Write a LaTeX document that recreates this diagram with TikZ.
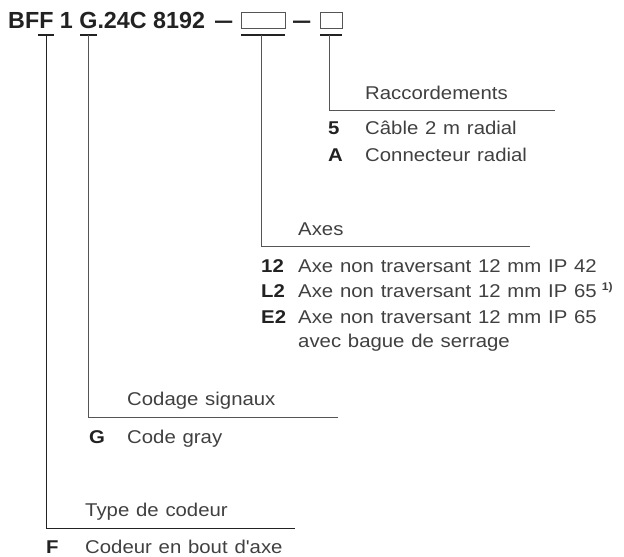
\documentclass[tikz,border=0pt]{standalone}
\usepackage{fontspec}
\setmainfont{Liberation Sans}[Ligatures=TeXOff]
\newfontfamily\bodyfont{Liberation Sans}[Ligatures=TeXOff,FakeStretch=1.1,WordSpace=1.2]
\definecolor{txt}{HTML}{404040}
\definecolor{keyc}{HTML}{222222}
\definecolor{ln}{HTML}{555555}
\newcommand{\shortdash}{\scalebox{0.74}[1]{—}}
\begin{document}
\begin{tikzpicture}[x=1pt,y=-1pt,
  lbl/.style={anchor=base west,inner sep=0pt,text=txt,font=\bodyfont\fontsize{18.5}{22}\selectfont},
  key/.style={anchor=base west,inner sep=0pt,text=keyc,font=\bodyfont\fontsize{18.5}{22}\selectfont\bfseries},
  ttl/.style={anchor=base west,inner sep=0pt,text=keyc,font=\fontsize{23.3}{26}\selectfont\bfseries},
  lead/.style={draw=ln,line width=1pt},
  tick/.style={draw=keyc,line width=2.4pt},
  slot/.style={draw=ln,line width=1pt,fill=white}]
\useasboundingbox (0,0) rectangle (624,557);
% title
\node[ttl] (title) at (8,28.3) {BFF 1 G.24C 8192};
\node[ttl] (dash1) at (215,28.3) {\shortdash};
\draw[slot] (241,12) rectangle (285,28.3);
\node[ttl] (dash2) at (293,28.3) {\shortdash};
\draw[slot] (320,12) rectangle (342,28.3);
% ticks
\draw[tick] (38,35) -- (54,35);
\draw[tick] (80,35) -- (97,35);
\draw[tick] (241,35) -- (285,35);
\draw[tick] (320,35) -- (342,35);
% Raccordements
\draw[lead] (329,35) |- (555,110);
\node[lbl] (rac) at (365,99.5) {Raccordements};
\node[key] (k5) at (328,134) {5};
\node[lbl] (t5) at (365,134) {Câble 2 m radial};
\node[key] (kA) at (328,161) {A};
\node[lbl] (tA) at (365,161) {Connecteur radial};
% Axes
\draw[lead] (261,35) |- (530,246.7);
\node[lbl] (axes) at (298,235) {Axes};
\node[key] (k12) at (261,272.3) {12};
\node[lbl] (t12) at (298,272.3) {Axe non traversant 12 mm IP 42};
\node[key] (kL2) at (261,297.5) {L2};
\node[lbl] (tL2) at (298,297.5) {Axe non traversant 12 mm IP 65\hspace{5pt}\raisebox{7pt}{\bfseries\fontsize{11}{12}\selectfont 1)}};
\node[key] (kE2) at (261,323) {E2};
\node[lbl] (tE2) at (298,323) {Axe non traversant 12 mm IP 65};
\node[lbl] (tE2b) at (298,347.5) {avec bague de serrage};
% Codage signaux
\draw[lead] (88,35) |- (338,417);
\node[lbl] (cod) at (127,405) {Codage signaux};
\node[key] (kG) at (89,443) {G};
\node[lbl] (tG) at (127,443) {Code gray};
% Type de codeur
\draw[lead,draw=keyc] (46,35) |- (295,528.3);
\node[lbl] (typ) at (85,516.5) {Type de codeur};
\node[key] (kF) at (46,553) {F};
\node[lbl] (tF) at (85,553) {Codeur en bout d'axe};
\end{tikzpicture}
\end{document}
